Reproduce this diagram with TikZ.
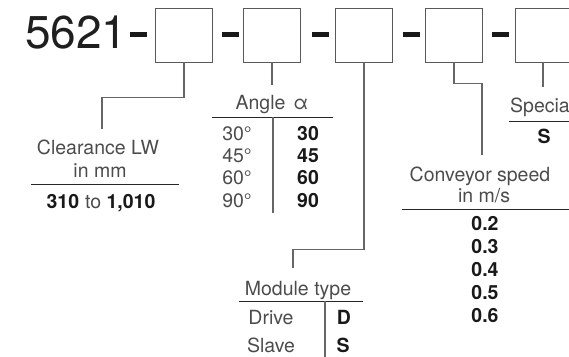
\documentclass[tikz,border=0pt]{standalone}
\usepackage{fontspec}
\setmainfont{TeX Gyre Heros}
\usetikzlibrary{positioning}

\begin{document}
\begin{tikzpicture}[x=1pt, y=-1pt,
    codebox/.style={draw=black!65, line width=0.9pt, minimum width=57pt, minimum height=54pt, inner sep=0pt},
    dashbar/.style={fill=black!90, minimum width=17pt, minimum height=4.5pt, inner sep=0pt},
    lbl/.style={anchor=base, inner sep=0pt, text=black!70, font=\fontsize{19.5}{22}\selectfont},
    val/.style={lbl, text=black!90, font=\fontsize{19.5}{22}\selectfont\bfseries},
    conn/.style={draw=black!60, line width=1.1pt},
    rule/.style={draw=black!85, line width=0.9pt}
    ]
    \useasboundingbox (0,0) rectangle (569,356);
    \clip (0,0) rectangle (569,356);

    % Type code
    \node[anchor=base west, inner sep=0pt, text=black!88, font=\fontsize{46}{50}\selectfont] (code) at (25,48) {5621};
    \node[dashbar] (d1) at (138,34.5) {};
    \node[dashbar] (d2) at (230.5,34.5) {};
    \node[dashbar] (d3) at (320,34.5) {};
    \node[dashbar] (d4) at (411.5,34.5) {};
    \node[dashbar] (d5) at (500.5,34.5) {};

    % Boxes
    \node[codebox] (b1) at (184,35) {};
    \node[codebox] (b2) at (272,35) {};
    \node[codebox] (b3) at (364,35) {};
    \node[codebox] (b4) at (454,35) {};
    \node[codebox, minimum width=70pt] (b5) at (550.5,35) {};

    % Clearance
    \node[lbl] (clr1) at (98,154) {Clearance LW};
    \node[lbl] (clr2) at (100,177) {in mm};
    \draw[rule] (31,184) -- (179,184);
    \node[val] (clrv) at (101,208) {310\hspace{6pt}\textcolor{black!70}{\mdseries to} 1,010};

    % Angle
    \node[lbl] (ang) at (272,109) {Angle\hspace{8pt}α};
    \draw[rule] (212,117) -- (333,117);
    \draw[conn] (273,117) -- (273,213);
    \foreach \a [count=\i] in {30,45,60,90} {
        \node[lbl] (ang\i) at (237,{140+22.4*(\i-1)}) {\a°};
        \node[val] (angv\i) at (308,{140+22.4*(\i-1)}) {\a};
    }

    % Module type
    \node[lbl] (mod) at (298,295) {Module type};
    \draw[rule] (239,301) -- (363,301);
    \draw[conn] (325,301) -- (325,358);
    \node[lbl] (drv) at (271,324) {Drive};
    \node[val] (drvv) at (344,324) {D};
    \node[lbl] (slv) at (271,352) {Slave};
    \node[val] (slvv) at (343,352) {S};

    % Conveyor speed
    \node[lbl] (spd1) at (480,181) {Conveyor speed};
    \node[lbl] (spd2) at (484,202) {in m/s};
    \draw[rule] (402,209) -- (572,209);
    \foreach \v [count=\i] in {0.2,0.3,0.4,0.5,0.6} {
        \node[val] (spdv\i) at (485,{230+23*(\i-1)}) {\v};
    }

    % Special
    \node[lbl, anchor=base west] (spc) at (510,112) {Special};
    \draw[rule] (509,121) -- (572,121);
    \node[val] (spcv) at (544,143) {S};

    % Connectors
    \coordinate (c1) at (102,129);
    \coordinate (c2) at (272,85);
    \coordinate (c3) at (293,268);
    \coordinate (c4) at (482,155);
    \coordinate (c5) at (543,87);
    \draw[conn] (b1.south) -- ++(0,35) -| (c1);
    \draw[conn] (b2.south) -- (c2);
    \draw[conn] (b3.south) -- ++(0,187) -| (c3);
    \draw[conn] (b4.south) -- ++(0,21) -| (c4);
    \draw[conn] (b5.south -| c5) -- (c5);
\end{tikzpicture}
\end{document}
